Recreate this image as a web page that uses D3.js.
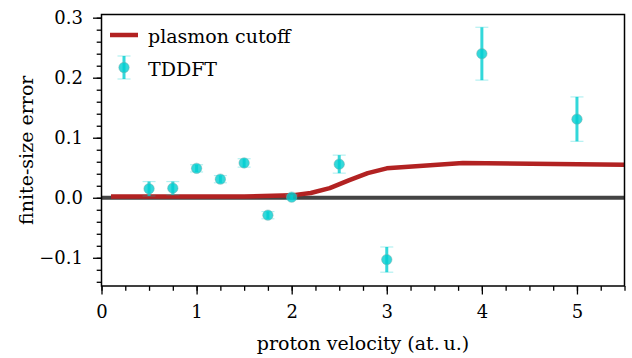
<!DOCTYPE html>
<html>
<head>
<meta charset="utf-8">
<script src="https://cdn.jsdelivr.net/npm/d3@7"></script>
<style>
  body { margin: 0; background: #fff; }
  svg text { font-family: "DejaVu Serif", serif; fill: #000; }
</style>
</head>
<body>
<svg id="chart" width="632" height="358"></svg>
<script>
// TDDFT points
const velocity = [0.5, 0.75, 1.0, 1.25, 1.5, 1.75, 2.0, 2.5, 3.0, 4.0, 5.0];
const tddftError = [0.015, 0.016, 0.049, 0.031, 0.058, -0.029, 0.001, 0.056, -0.103, 0.240, 0.131];
const tddftUnc = [0.012, 0.011, 0.006, 0.006, 0.007, 0.006, 0.004, 0.015, 0.021, 0.044, 0.037];

// plasmon cutoff curve
const cutoffV = [0.1, 1.0, 1.5, 2.0, 2.2, 2.4, 2.6, 2.8, 3.0, 3.8, 5.5];
const cutoffErr = [0.002, 0.002, 0.002, 0.004, 0.008, 0.016, 0.029, 0.041, 0.049, 0.058, 0.055];

const xMajor = [0, 1, 2, 3, 4, 5];
const yMajor = [-0.1, 0.0, 0.1, 0.2, 0.3];
const yLabels = ["\u22120.1", "0.0", "0.1", "0.2", "0.3"];

const svg = d3.select("#chart");
const m = { left: 101.5, right: 624.5, top: 14.5, bottom: 286 };

const x = d3.scaleLinear().domain([0, 5.5]).range([m.left, m.right]);
const y = d3.scaleLinear().domain([-0.147, 0.3053]).range([m.bottom, m.top]);

const teal = "#00ced1";
const red = "#b22222";

// zero line
svg.append("line")
  .attr("x1", x(0)).attr("x2", x(5.5))
  .attr("y1", y(0)).attr("y2", y(0))
  .attr("stroke", "#444").attr("stroke-width", 3.8);

// cutoff curve
const line = d3.line().x((d, i) => x(cutoffV[i])).y(d => y(d));
svg.append("path")
  .datum(cutoffErr)
  .attr("d", line)
  .attr("fill", "none")
  .attr("stroke", red).attr("stroke-width", 4.5)
  .attr("stroke-linejoin", "round");

// error bars
const pts = velocity.map((v, i) => ({ v, e: tddftError[i], u: tddftUnc[i] }));
const g = svg.append("g").selectAll("g").data(pts).join("g");
g.append("line")
  .attr("x1", d => x(d.v)).attr("x2", d => x(d.v))
  .attr("y1", d => y(d.e - d.u)).attr("y2", d => y(d.e + d.u))
  .attr("stroke", teal).attr("stroke-opacity", 0.8).attr("stroke-width", 3);
[-1, 1].forEach(s => {
  g.append("line")
    .attr("x1", d => x(d.v) - 6.5).attr("x2", d => x(d.v) + 6.5)
    .attr("y1", d => y(d.e + s * d.u)).attr("y2", d => y(d.e + s * d.u))
    .attr("stroke", teal).attr("stroke-opacity", 0.3).attr("stroke-width", 1.2);
});
g.append("circle")
  .attr("cx", d => x(d.v)).attr("cy", d => y(d.e))
  .attr("r", 5.2)
  .attr("fill", teal).attr("fill-opacity", 0.8)
  .attr("stroke", "#7aa").attr("stroke-opacity", 0.6).attr("stroke-width", 0.8);

// axes
const xAxis = d3.axisBottom(x).tickValues(xMajor).tickSize(8.5).tickPadding(11).tickFormat(d3.format("d"));
const xMinor = d3.axisBottom(x).tickValues(d3.range(0, 5.51, 0.25)).tickSize(4.8).tickFormat("");
const yAxis = d3.axisLeft(y).tickValues(yMajor).tickSize(8.5).tickPadding(10).tickFormat((d, i) => yLabels[i]);
const yMinor = d3.axisLeft(y).tickValues(d3.range(-0.14, 0.301, 0.02)).tickSize(4.8).tickFormat("");

function styleAxis(sel) {
  sel.select(".domain").remove();
  sel.selectAll("line").attr("stroke", "#000").attr("stroke-width", 1.3);
  sel.selectAll("text").attr("font-size", 18).attr("font-family", "DejaVu Serif");
}
svg.append("g").attr("transform", `translate(0,${m.bottom})`).call(xMinor).call(styleAxis);
svg.append("g").attr("transform", `translate(0,${m.bottom})`).call(xAxis).call(styleAxis);
svg.append("g").attr("transform", `translate(${m.left},0)`).call(yMinor).call(styleAxis);
svg.append("g").attr("transform", `translate(${m.left},0)`).call(yAxis).call(styleAxis);

// frame
svg.append("rect")
  .attr("x", m.left).attr("y", m.top)
  .attr("width", m.right - m.left).attr("height", m.bottom - m.top)
  .attr("fill", "none").attr("stroke", "#000").attr("stroke-width", 1.5);

// labels
svg.append("text")
  .attr("x", (m.left + m.right) / 2).attr("y", 350)
  .attr("text-anchor", "middle").attr("font-size", 19)
  .text("proton velocity (at.\u2009u.)");
svg.append("text")
  .attr("transform", `translate(33,${(m.top + m.bottom) / 2}) rotate(-90)`)
  .attr("text-anchor", "middle").attr("font-size", 19)
  .text("finite-size error");

// legend
svg.append("line")
  .attr("x1", 110).attr("x2", 138).attr("y1", 35).attr("y2", 35)
  .attr("stroke", red).attr("stroke-width", 4.5);
svg.append("text").attr("x", 148).attr("y", 43).attr("font-size", 19).text("plasmon cutoff");
svg.append("line")
  .attr("x1", 124).attr("x2", 124).attr("y1", 56).attr("y2", 79)
  .attr("stroke", teal).attr("stroke-opacity", 0.8).attr("stroke-width", 3);
[56, 79].forEach(yy => svg.append("line")
  .attr("x1", 117.5).attr("x2", 130.5).attr("y1", yy).attr("y2", yy)
  .attr("stroke", teal).attr("stroke-opacity", 0.3).attr("stroke-width", 1.2));
svg.append("circle").attr("cx", 124).attr("cy", 67.5).attr("r", 5.2)
  .attr("fill", teal).attr("fill-opacity", 0.8)
  .attr("stroke", "#7aa").attr("stroke-opacity", 0.6).attr("stroke-width", 0.8);
svg.append("text").attr("x", 148).attr("y", 76).attr("font-size", 19).text("TDDFT");
</script>
</body>
</html>
